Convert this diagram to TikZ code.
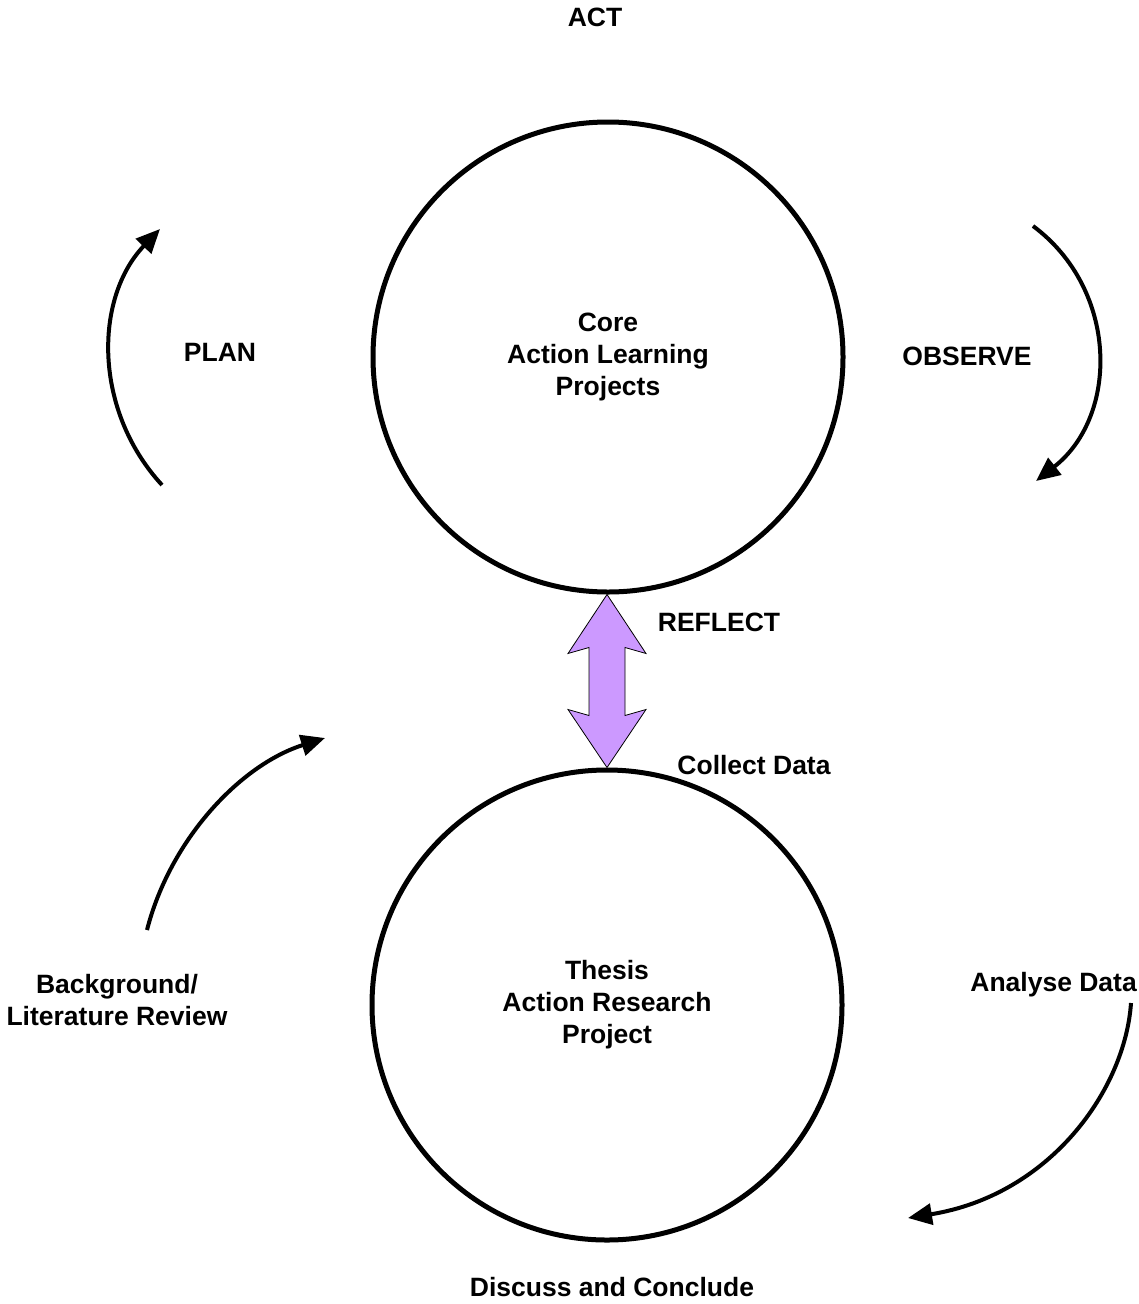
\documentclass[tikz,border=0pt]{standalone}
\usepackage{fontspec}
\setmainfont{Liberation Sans}
\usetikzlibrary{arrows.meta,calc}
\definecolor{lilac}{HTML}{CC99FF}
\tikzset{
  bigcircle/.style={circle, draw=black, line width=5pt, minimum size=470pt, inner sep=0pt, align=center, font=\fontsize{26.5}{32}\selectfont\bfseries},
  lbl/.style={inner sep=0pt, align=center, font=\fontsize{26.5}{32}\selectfont\bfseries},
  curvearrow/.style={line width=4pt, -{Triangle[length=24pt,width=21pt]}},
  dblarrow/.style={draw=black, line width=0.8pt, fill=lilac, line join=miter}
}
\begin{document}
\begin{tikzpicture}[x=1pt,y=-1pt]
\useasboundingbox (0,0) rectangle (1139,1304);
% circles
\node[bigcircle] (core) at (608,357) {Core\\Action Learning\\Projects};
\node[bigcircle] (thesis) at (607,1005) {Thesis\\Action Research\\Project};
% labels
\node[lbl, anchor=base] (act) at (595,26) {ACT};
\node[lbl, anchor=base] (plan) at (220,361) {PLAN};
\node[lbl, anchor=base] (observe) at (967,365) {OBSERVE};
\node[lbl, anchor=base] (reflect) at (719,631) {REFLECT};
\node[lbl, anchor=base] (collect) at (754,774) {Collect Data};
\node[lbl] (background) at (117,1000) {Background/\\Literature Review};
\node[lbl, anchor=base east] (analyse) at (1137,991) {Analyse Data};
\node[lbl, anchor=base] (discuss) at (612,1296) {Discuss and Conclude};
% double arrow between circles
\coordinate (rt) at ($(core.south)+(-1,0)$);
\coordinate (rb) at (thesis.north);
\draw[dblarrow] (rt) -- ($(rt)+(39,59)$) -- ($(rt)+(18,53)$) -- ($(rb)+(18,-52)$) -- ($(rb)+(39,-58)$)
  -- (rb) -- ($(rb)+(-39,-58)$) -- ($(rb)+(-18,-52)$) -- ($(rt)+(-18,53)$) -- ($(rt)+(-39,59)$) -- cycle;
% curved arrows
\coordinate (planS) at (162,485);
\coordinate (planE) at (160,229);
\draw[curvearrow] (planS) .. controls (93,410) and (94,298) .. (planE);
\coordinate (obsS) at (1033,226);
\coordinate (obsE) at (1036,481);
\draw[curvearrow] (obsS) .. controls (1119,290) and (1119,416) .. (obsE);
\coordinate (bgS) at (147,930);
\coordinate (bgE) at (325,738);
\draw[curvearrow] (bgS) .. controls (170,840) and (240,765) .. (bgE);
\coordinate (anS) at (1131,1003);
\coordinate (anE) at (908,1218);
\draw[curvearrow] (anS) .. controls (1125,1090) and (1050,1195) .. (anE);
\end{tikzpicture}
\end{document}
